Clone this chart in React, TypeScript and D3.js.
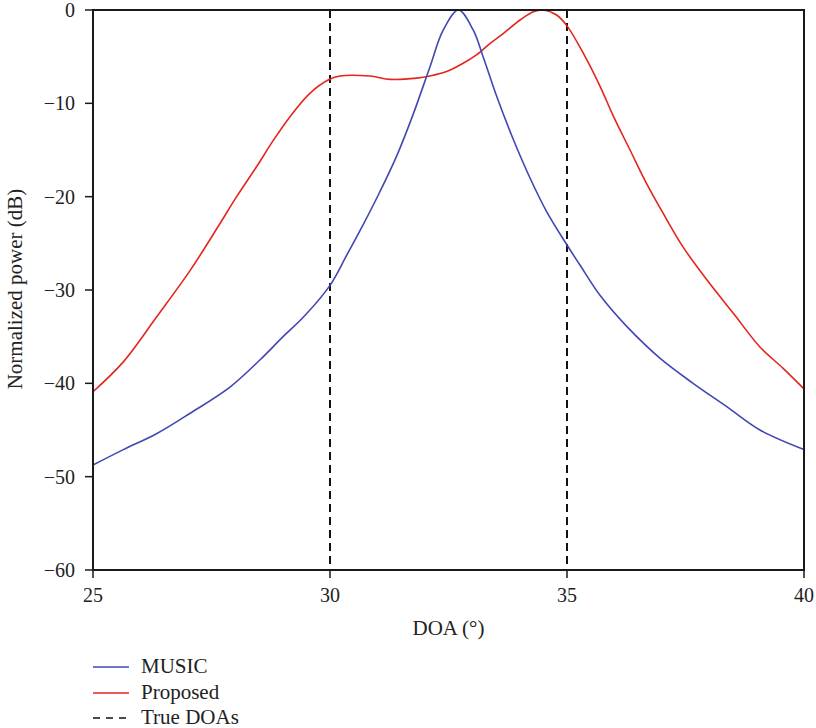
import React from "react";
import * as d3 from "d3";

const musicDoa = [25, 25.64, 26.34, 27.05, 27.89, 28.52, 29.01, 29.44, 30, 30.35, 30.7, 31.05, 31.41, 31.76, 32.11, 32.39, 32.71, 33.02, 33.23, 33.52, 33.87, 34.22, 34.57, 34.99, 35.27, 35.7, 36.26, 36.96, 37.66, 38.37, 39.07, 40];
const musicPow = [-48.75, -47.1, -45.4, -43.2, -40.4, -37.5, -35.0, -32.9, -29.5, -26.3, -23.0, -19.5, -15.6, -11.1, -6.07, -2.14, 0, -2.14, -5.0, -9.3, -13.9, -18.0, -21.6, -25.1, -27.3, -30.6, -33.9, -37.3, -40.0, -42.5, -45.0, -47.1];

const propDoa = [25, 25.64, 26.34, 27.05, 27.64, 28.03, 28.45, 28.8, 29.16, 29.58, 29.98, 30.21, 30.84, 31.27, 31.83, 32.11, 32.46, 32.81, 33.09, 33.38, 33.66, 34.01, 34.29, 34.5, 34.78, 35.0, 35.34, 35.7, 35.98, 36.33, 36.68, 37.03, 37.45, 37.95, 38.51, 39.07, 39.56, 40];
const propPow = [-40.9, -37.7, -32.9, -27.9, -23.2, -20.0, -16.8, -14.0, -11.4, -8.9, -7.45, -7.07, -7.07, -7.43, -7.3, -7.07, -6.6, -5.7, -4.8, -3.57, -2.5, -1.07, -0.18, 0, -0.54, -1.7, -4.6, -8.2, -11.4, -15.0, -18.6, -21.8, -25.4, -28.9, -32.5, -36.1, -38.4, -40.6];

const trueDoas = [30, 35];
const xTicks = [25, 30, 35, 40];
const yTicks = [0, -10, -20, -30, -40, -50, -60];
const legendLabels = ["MUSIC", "Proposed", "True DOAs"];

const BLUE = "#4148b2";
const RED = "#e4251d";
const FONT = "'Liberation Serif', 'Times New Roman', serif";

export default function App() {
  const left = 93, right = 804, top = 10, bottom = 570;
  const x = d3.scaleLinear().domain([25, 40]).range([left, right]);
  const y = d3.scaleLinear().domain([-60, 0]).range([bottom, top]);
  const line = d3
    .line<[number, number]>()
    .x((d) => x(d[0]))
    .y((d) => y(d[1]))
    .curve(d3.curveCatmullRom.alpha(0.5));
  const musicPts = musicDoa.map((d, i) => [d, musicPow[i]] as [number, number]);
  const propPts = propDoa.map((d, i) => [d, propPow[i]] as [number, number]);

  const legendY = [667, 693, 718];
  const legendColors = [BLUE, RED, "#111"];

  return (
    <svg
      width={816}
      height={728}
      style={{ position: "absolute", left: 0, top: 0, background: "#fff" }}
      fontFamily={FONT}
    >
      <rect x={0} y={0} width={816} height={728} fill="#fff" />
      {trueDoas.map((d) => (
        <line
          key={d}
          x1={x(d)}
          x2={x(d)}
          y1={top}
          y2={bottom}
          stroke="#111"
          strokeWidth={2}
          strokeDasharray="8,5"
        />
      ))}
      <path d={line(propPts) || ""} fill="none" stroke={RED} strokeWidth={1.6} />
      <path d={line(musicPts) || ""} fill="none" stroke={BLUE} strokeWidth={1.6} />
      <rect x={left} y={top} width={right - left} height={bottom - top} fill="none" stroke="#1a1a1a" strokeWidth={2} />
      {yTicks.map((t) => (
        <g key={t}>
          <line x1={left - 8} x2={left} y1={y(t)} y2={y(t)} stroke="#1a1a1a" strokeWidth={1.5} />
          <text x={left - 18} y={y(t)} dy="0.35em" textAnchor="end" fontSize={20} fill="#222">
            {t === 0 ? "0" : "\u2212" + Math.abs(t)}
          </text>
        </g>
      ))}
      {xTicks.map((t) => (
        <g key={t}>
          <line x1={x(t)} x2={x(t)} y1={bottom} y2={bottom + 8} stroke="#1a1a1a" strokeWidth={1.5} />
          <text x={x(t)} y={602} textAnchor="middle" fontSize={20} fill="#222">
            {t}
          </text>
        </g>
      ))}
      <text x={(left + right) / 2} y={635} textAnchor="middle" fontSize={21} fill="#222">
        DOA (°)
      </text>
      <text
        transform={`translate(22, 289) rotate(-90)`}
        textAnchor="middle"
        fontSize={21}
        fill="#222"
      >
        Normalized power (dB)
      </text>
      {legendLabels.map((l, i) => (
        <g key={l}>
          <line
            x1={93}
            x2={129}
            y1={legendY[i]}
            y2={legendY[i]}
            stroke={legendColors[i]}
            strokeWidth={i === 2 ? 1.6 : 1.4}
            strokeDasharray={i === 2 ? "7,6" : undefined}
          />
          <text x={141} y={legendY[i] + 6} fontSize={21} fill="#222">
            {l}
          </text>
        </g>
      ))}
    </svg>
  );
}
